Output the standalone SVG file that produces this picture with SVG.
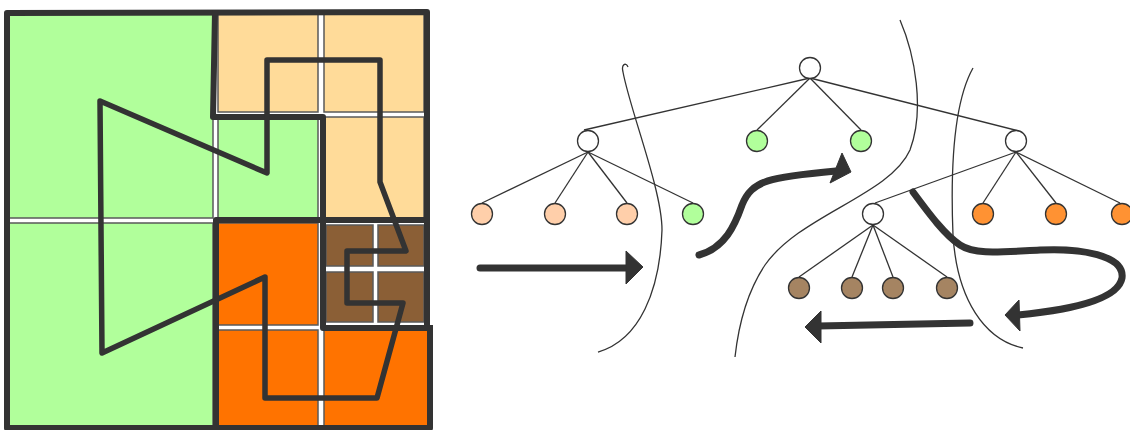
<svg xmlns="http://www.w3.org/2000/svg" width="1130" height="430" viewBox="0 0 1130 430">
<style>
.cell{stroke:#5a5a5a;stroke-width:1.5}
.g{fill:#b1ff9b}.lo{fill:#ffdb99}.o{fill:#ff7300}.b{fill:#8b5f36}
.thick{fill:none;stroke:#333;stroke-width:6;stroke-linejoin:round;stroke-linecap:square}
.curve{fill:none;stroke:#333;stroke-width:5.5;stroke-linejoin:round}
.edge{stroke:#333;stroke-width:1.3;fill:none}
.node{stroke:#333;stroke-width:1.3}
.w{fill:#fff}.np{fill:#ffcfaa}.ng{fill:#b1ff9b}.no{fill:#ff9233}.nb{fill:#a58462}
.cut{fill:none;stroke:#333;stroke-width:1.3}
.arrow{fill:none;stroke:#333;stroke-width:7;stroke-linecap:round}
.head{fill:#333;stroke:#333;stroke-width:1;stroke-linejoin:round}
</style>
<rect width="1130" height="430" fill="#fff"/>
<g id="grid">
<rect class="cell g" x="8" y="14" width="205" height="204"/>
<rect class="cell g" x="8" y="223" width="205" height="205"/>
<rect class="cell lo" x="218" y="14" width="100" height="98"/>
<rect class="cell lo" x="324" y="14" width="100" height="98"/>
<rect class="cell g" x="218" y="117" width="100" height="101"/>
<rect class="cell lo" x="324" y="117" width="100" height="101"/>
<rect class="cell o" x="218" y="223" width="100" height="102"/>
<rect class="cell b" x="326" y="225" width="47" height="41"/>
<rect class="cell b" x="378" y="225" width="46" height="41"/>
<rect class="cell b" x="326" y="272" width="47" height="50"/>
<rect class="cell b" x="378" y="272" width="46" height="50"/>
<rect class="cell o" x="218" y="330" width="100" height="98"/>
<rect class="cell o" x="324" y="330" width="104" height="98"/>
<path class="thick" d="M7 13 L427 12 L427 328 L430 328 L430 428 L7 428 Z"/>
<path class="thick" d="M215 13 L213 117 L323 117 L323 328 L430 328"/>
<path class="thick" d="M216 428 L216 220 L427 220"/>
<path class="curve" d="M100 101 L267 173 L267 60 L380 60 L380 182 L406 251 L347 251 L347 303 L403 303 L377 398 L265 398 L265 277 L102 353 Z"/>
</g>
<g id="connectors">
<line class="edge" x1="810" y1="78" x2="584" y2="130"/>
<line class="edge" x1="810" y1="78" x2="757" y2="130"/>
<line class="edge" x1="810" y1="78" x2="861" y2="130"/>
<line class="edge" x1="810" y1="78" x2="1019" y2="131"/>
<line class="edge" x1="588" y1="152" x2="482" y2="203"/>
<line class="edge" x1="588" y1="152" x2="555" y2="203"/>
<line class="edge" x1="588" y1="152" x2="627" y2="203"/>
<line class="edge" x1="588" y1="152" x2="693" y2="203"/>
<line class="edge" x1="1016" y1="152" x2="875" y2="203"/>
<line class="edge" x1="1016" y1="152" x2="983" y2="203"/>
<line class="edge" x1="1016" y1="152" x2="1056" y2="203"/>
<line class="edge" x1="1016" y1="152" x2="1120" y2="203"/>
<line class="edge" x1="873" y1="225" x2="799" y2="277"/>
<line class="edge" x1="873" y1="225" x2="852" y2="277"/>
<line class="edge" x1="873" y1="225" x2="893" y2="277"/>
<line class="edge" x1="873" y1="225" x2="947" y2="277"/>
</g>
<g id="root"><circle class="node w" cx="810" cy="68" r="10.5"/></g>
<g id="n-left"><circle class="node w" cx="588" cy="141" r="10.5"/></g>
<g id="n-g1"><circle class="node ng" cx="757" cy="141" r="10.5"/></g>
<g id="n-g2"><circle class="node ng" cx="861" cy="141" r="10.5"/></g>
<g id="n-right"><circle class="node w" cx="1016" cy="141" r="10.5"/></g>
<g id="n-p1"><circle class="node np" cx="482" cy="214" r="10.5"/></g>
<g id="n-p2"><circle class="node np" cx="555" cy="214" r="10.5"/></g>
<g id="n-p3"><circle class="node np" cx="627" cy="214" r="10.5"/></g>
<g id="n-g3"><circle class="node ng" cx="693" cy="214" r="10.5"/></g>
<g id="n-mid"><circle class="node w" cx="873" cy="214" r="10.5"/></g>
<g id="n-o1"><circle class="node no" cx="983" cy="214" r="10.5"/></g>
<g id="n-o2"><circle class="node no" cx="1056" cy="214" r="10.5"/></g>
<g id="n-o3"><circle class="node no" cx="1122" cy="214" r="10.5"/></g>
<g id="n-b1"><circle class="node nb" cx="799" cy="288" r="10.5"/></g>
<g id="n-b2"><circle class="node nb" cx="852" cy="288" r="10.5"/></g>
<g id="n-b3"><circle class="node nb" cx="893" cy="288" r="10.5"/></g>
<g id="n-b4"><circle class="node nb" cx="947" cy="288" r="10.5"/></g>
<g id="cuts">
<path class="cut" d="M628 67 C626 62 621 64 623 72 C630 110 662 190 662 230 C660 290 640 340 598 352"/>
<path class="cut" d="M900 20 C915 55 925 110 910 150 C890 195 800 215 765 265 C745 295 738 330 735 357"/>
<path class="cut" d="M973 68 C955 100 950 160 953 235 C957 300 985 340 1023 348"/>
</g>
<g id="arrows">
<path class="arrow" d="M480 268 L628 268"/>
<polygon class="head" points="626,251 643,267 626,284"/>
<path class="arrow" d="M699 255 C725 248 735 225 742 205 C752 180 770 177 836 171"/>
<polygon class="head" points="842,153 851,172 830,183"/>
<path class="arrow" d="M913 192 C930 215 945 235 960 245 C975 255 1000 252 1040 250 C1080 248 1125 255 1122 278 C1118 300 1070 310 1018 315"/>
<polygon class="head" points="1005,315 1019,300 1020,331"/>
<path class="arrow" d="M970 323 L818 326"/>
<polygon class="head" points="805,327 821,311 821,343"/>
</g>
</svg>
